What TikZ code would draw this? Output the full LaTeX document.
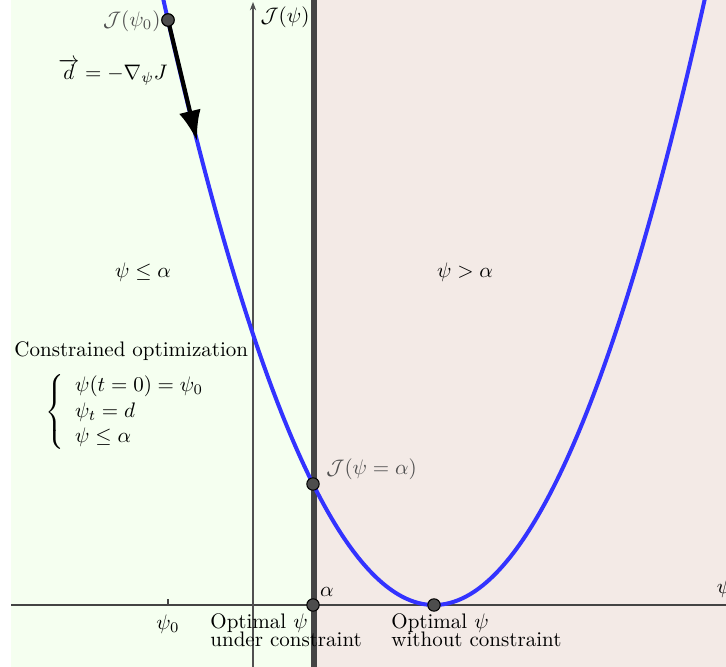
\documentclass[tikz,border=0pt]{standalone}
\usetikzlibrary{arrows.meta}
\definecolor{greenbg}{RGB}{245,255,240}
\definecolor{pinkbg}{RGB}{243,234,230}
\definecolor{curveblue}{RGB}{51,51,255}
\definecolor{darkline}{RGB}{68,68,68}
\definecolor{dotfill}{RGB}{77,77,77}
\definecolor{lblgray}{RGB}{80,80,80}
\tikzset{
  dotnode/.style={circle,fill=dotfill,draw=black,line width=0.5pt,minimum size=5.9pt,inner sep=0pt},
  axisline/.style={draw=darkline,line width=0.55pt},
  curve/.style={draw=curveblue,line width=1.9pt},
  lbl/.style={inner sep=0pt},
}
\begin{document}
\begin{tikzpicture}[x=0.476pt,y=-0.476pt]
\useasboundingbox (0,0) rectangle (726,667);
\begin{scope}
\clip (0,0) rectangle (726,667);
\fill[greenbg] (11,0) rectangle (314,667);
\fill[pinkbg] (314,0) rectangle (726,667);
% axes
\draw[axisline] (11,605) -- (740,605);
\draw[draw=lblgray,line width=0.5pt,-{Stealth[length=4pt,width=3pt]}] (253,667) -- (253,2);
\draw[axisline] (168,599) -- (168,605);
% constraint line
\draw[draw=darkline,line width=2.6pt] (314,0) -- (314,667);
% parabola
\draw[curve] plot[domain=158:712,samples=120,smooth] (\x,{605-((\x-434)/11)^2});
% nodes
\node[dotnode] (p0) at (168,20) {};
\node[dotnode] (pa) at (313,484) {};
\node[dotnode] (alpha) at (313,605) {};
\node[dotnode] (opt) at (434,605) {};
\coordinate (tip) at (197,141);
\draw[line width=2pt,-{Latex[length=14.5pt,width=10.5pt]}] (p0.center) -- (tip);
\node[dotnode] at (168,20) {};
% labels
\node[lbl,anchor=east,text=lblgray] (lp0) at (161,21) {$\mathcal{J}(\psi_0)$};
\node[lbl] (ly) at (285,17) {$\mathcal{J}(\psi)$};
\node[lbl] (ld) at (113,72) {$\overrightarrow{d}=-\nabla_{\psi}J$};
\node[lbl] (lle) at (143,272) {$\psi\leq\alpha$};
\node[lbl] (lgt) at (465,272) {$\psi>\alpha$};
\node[lbl,anchor=west] (lco) at (14,351) {Constrained optimization};
\node[lbl] (lcases) at (131,412) {$\left\{\begin{array}{l}\psi(t=0)=\psi_0\\ \psi_t=d\\ \psi\leq\alpha\end{array}\right.$};
\node[lbl,anchor=west,text=lblgray] (lpa) at (326,469) {$\mathcal{J}(\psi=\alpha)$};
\node[lbl] (lal) at (327,592) {$\alpha$};
\node[lbl] (lpsi0) at (168,624) {$\psi_0$};
\node[lbl] (lpsi) at (724,588) {$\psi$};
\node[lbl,anchor=north west,align=left] (lu) at (210,613) {Optimal $\psi$\\[-3.4pt]under constraint};
\node[lbl,anchor=north west,align=left] (lw) at (391,613) {Optimal $\psi$\\[-3.4pt]without constraint};
\end{scope}
\end{tikzpicture}
\end{document}
